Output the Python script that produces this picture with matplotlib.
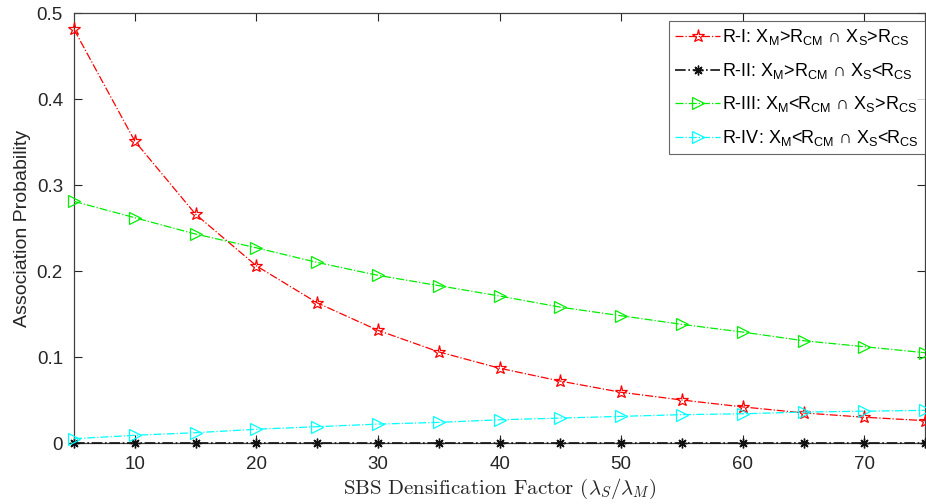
import matplotlib
matplotlib.use("Agg")
import matplotlib.pyplot as plt

plt.rcParams['font.family'] = ['Liberation Sans', 'DejaVu Sans']
plt.rcParams['mathtext.default'] = 'it'

x = [5, 10, 15, 20, 25, 30, 35, 40, 45, 50, 55, 60, 65, 70, 75]
r1 = [0.481, 0.351, 0.266, 0.206, 0.163, 0.131, 0.106, 0.087, 0.072, 0.059, 0.050, 0.042, 0.035, 0.030, 0.026]
r2 = [0.0] * 15
r3 = [0.281, 0.262, 0.243, 0.227, 0.210, 0.195, 0.183, 0.171, 0.158, 0.148, 0.138, 0.129, 0.119, 0.112, 0.105]
r4 = [0.005, 0.009, 0.012, 0.016, 0.019, 0.022, 0.024, 0.027, 0.029, 0.031, 0.033, 0.034, 0.036, 0.037, 0.038]

labels = [
    r'R-I: X$_\mathregular{M}$>R$_\mathregular{CM}$ ∩ X$_\mathregular{S}$>R$_\mathregular{CS}$',
    r'R-II: X$_\mathregular{M}$>R$_\mathregular{CM}$ ∩ X$_\mathregular{S}$<R$_\mathregular{CS}$',
    r'R-III: X$_\mathregular{M}$<R$_\mathregular{CM}$ ∩ X$_\mathregular{S}$>R$_\mathregular{CS}$',
    r'R-IV: X$_\mathregular{M}$<R$_\mathregular{CM}$ ∩ X$_\mathregular{S}$<R$_\mathregular{CS}$',
]
xticks = [10, 20, 30, 40, 50, 60, 70]
yticks = [0, 0.1, 0.2, 0.3, 0.4, 0.5]
yticklabels = ['0', '0.1', '0.2', '0.3', '0.4', '0.5']

fig = plt.figure(figsize=(9.26, 5.04), dpi=100)
ax = fig.add_axes([0.080, 0.121, 0.919, 0.853])

lw = 0.9
ax.plot(x, r1, '-.', color='#ff0000', lw=lw, marker='*', ms=9.5, mfc='none', mew=0.9, label=labels[0], clip_on=False, zorder=3)
ax.plot(x, r2, '-.', color='#111111', lw=1.2, marker=(8, 2, 0), ms=7, mew=1.0, label=labels[1], clip_on=False, zorder=3)
ax.plot(x, r3, '-.', color='#00ee00', lw=lw, marker='>', ms=9, mfc='none', mew=0.9, label=labels[2], clip_on=False, zorder=3)
ax.plot(x, r4, '-.', color='#00ffff', lw=lw, marker='>', ms=9, mfc='none', mew=0.9, label=labels[3], clip_on=False, zorder=3)

ax.set_xlim(5, 75)
ax.set_ylim(0, 0.5)
ax.set_xticks(xticks)
ax.set_yticks(yticks)
ax.set_yticklabels(yticklabels)
ax.tick_params(direction='in', top=True, right=True, labelsize=13.5, colors='#262626', length=6)
ax.tick_params(axis='x', pad=9)
ax.tick_params(axis='y', pad=8)
for s in ax.spines.values():
    s.set_color('#404040')
    s.set_linewidth(0.9)

ax.set_ylabel('Association Probability', fontsize=14, color='#262626', labelpad=4)
ax.set_xlabel(r'SBS Densification Factor ($\lambda_S/\lambda_M$)', fontsize=15,
              math_fontfamily='cm', color='#262626', labelpad=3)
ax.xaxis.label.set_fontfamily(['cmr10', 'DejaVu Serif'])

leg = ax.legend(loc='upper right', bbox_to_anchor=(0.9995, 0.9815), fontsize=13,
                frameon=True, fancybox=False, edgecolor='#404040', handlelength=2.5,
                handletextpad=0.1, labelspacing=0.75, borderpad=0.35, borderaxespad=0.0)
leg.get_frame().set_linewidth(0.8)
leg.set_zorder(5)

fig.savefig('out.png', dpi=100)
